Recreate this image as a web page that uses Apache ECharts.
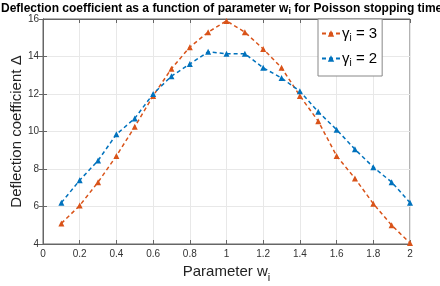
<!DOCTYPE html>
<html><head><meta charset="utf-8">
<script src="https://cdn.jsdelivr.net/npm/echarts@6/dist/echarts.min.js"></script>
<style>html,body{margin:0;padding:0;background:#fff}#c{width:440px;height:286px}</style>
</head><body><div id="c"></div>
<script>
const wValues = [0.1,0.2,0.3,0.4,0.5,0.6,0.7,0.8,0.9,1.0,1.1,1.2,1.3,1.4,1.5,1.6,1.7,1.8,1.9,2.0];
const gamma3 = [5.1,6.05,7.3,8.7,10.25,11.9,13.35,14.5,15.3,15.9,15.3,14.4,13.4,11.9,10.55,8.7,7.5,6.15,5.0,4.05];
const gamma2 = [6.2,7.4,8.45,9.85,10.7,12.0,12.95,13.6,14.25,14.15,14.15,13.4,12.85,12.15,11.05,10.1,9.05,8.1,7.3,6.2];
const seriesNames = ['γ3','γ2'];
const xTicks = {min:0,max:2,interval:0.2};
const yTicks = {min:4,max:16,interval:2};

const chart = echarts.init(document.getElementById('c'), null, {renderer:'canvas'});
const ff = 'Liberation Sans, Arial, sans-serif';
const axisCol = '#666';
function pairs(v){return wValues.map((x,i)=>[x,v[i]]);}
const common = {type:'line', symbol:'triangle', symbolSize:6, lineStyle:{type:[4,3],width:1.5}};
chart.setOption({
  animation:false,
  title:{text:'{b|Deflection coefficient as a function of parameter w}{s|i}{b| for Poisson stopping times}',
    left:0, top:0, padding:[1,0,0,1],
    textStyle:{rich:{b:{fontSize:12,fontWeight:'bold',fontFamily:ff,color:'#000'},s:{fontSize:9,fontWeight:'bold',fontFamily:ff,color:'#000',padding:[6,0,0,0]}}}},
  grid:{left:43,right:30,top:19,bottom:42,show:true,borderColor:axisCol,borderWidth:1,containLabel:false,outerBoundsMode:'none'},
  legend:{left:318,top:19,orient:'vertical',itemWidth:18,itemHeight:8,itemGap:8,
    padding:[7,5,8,3],borderColor:'#888',borderWidth:1,backgroundColor:'#fff',
    data:seriesNames,
    formatter:function(n){return n==='γ3'?'{g|γ}{s|i}{g| = 3}':'{g|γ}{s|i}{g| = 2}';},
    textStyle:{padding:[0,0,0,-3],rich:{g:{fontSize:15,fontFamily:ff,color:'#000'},s:{fontSize:10,fontFamily:ff,color:'#000',padding:[9,0,0,0]}}}},
  xAxis:[{type:'value',min:xTicks.min,max:xTicks.max,interval:xTicks.interval,
    name:'{n|Parameter w}{s|i}',nameLocation:'middle',nameGap:17,
    nameTextStyle:{rich:{n:{fontSize:15,fontFamily:ff,color:'#222'},s:{fontSize:11,fontFamily:ff,color:'#222',padding:[11,0,0,0]}}},
    axisLine:{show:true,lineStyle:{color:axisCol}},axisTick:{show:true,inside:true,length:4,lineStyle:{color:axisCol}},
    axisLabel:{fontSize:10,fontFamily:ff,color:'#333',margin:5,formatter:v=>String(+v.toFixed(1))},
    splitLine:{show:true,lineStyle:{color:'#e8e8e8'}}},
    {type:'value',position:'top',min:xTicks.min,max:xTicks.max,interval:xTicks.interval,
    axisLine:{show:true,lineStyle:{color:axisCol}},axisTick:{show:true,inside:true,length:4,lineStyle:{color:axisCol}},
    axisLabel:{show:false},splitLine:{show:false}}],
  yAxis:[{type:'value',min:yTicks.min,max:yTicks.max,interval:yTicks.interval,
    name:'Deflection coefficient Δ',nameLocation:'middle',nameGap:19,nameMoveOverlap:false,
    nameTextStyle:{fontSize:15,fontFamily:ff,color:'#222'},
    axisLine:{show:true,lineStyle:{color:axisCol}},axisTick:{show:true,inside:true,length:4,lineStyle:{color:axisCol}},
    axisLabel:{fontSize:10,fontFamily:ff,color:'#333',margin:4},
    splitLine:{show:true,lineStyle:{color:'#e8e8e8'}}},
    {type:'value',position:'right',min:yTicks.min,max:yTicks.max,interval:yTicks.interval,
    axisLine:{show:true,lineStyle:{color:axisCol}},axisTick:{show:true,inside:true,length:4,lineStyle:{color:axisCol}},
    axisLabel:{show:false},splitLine:{show:false}}],
  series:[
    Object.assign({},common,{name:'γ3',data:pairs(gamma3),color:'#D95319'}),
    Object.assign({},common,{name:'γ2',data:pairs(gamma2),color:'#0072BD'})
  ]
});
</script></body></html>
